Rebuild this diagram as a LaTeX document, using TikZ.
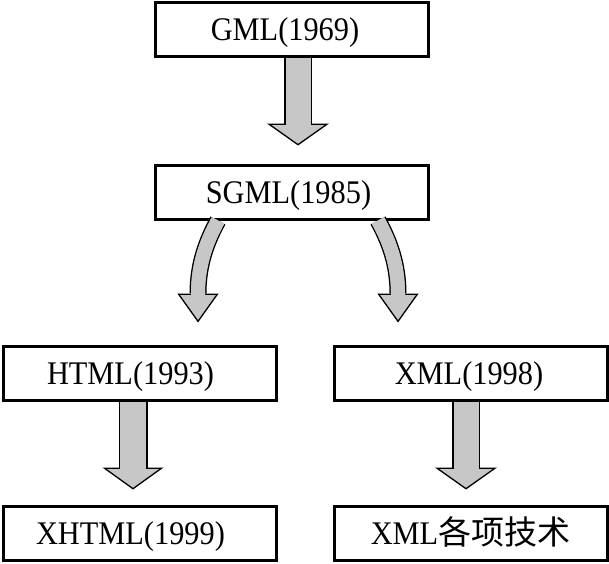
\documentclass[tikz,border=0pt]{standalone}
\usepackage{fontspec}
\setmainfont{Liberation Serif}[FakeStretch=0.92]
\newfontfamily\cjk{Noto Sans CJK SC}
\usepackage{tikz}
\usetikzlibrary{arrows.meta, positioning}
\definecolor{arrowgray}{gray}{0.78}
\tikzset{
  stage/.style    = {rectangle, draw=black, line width=3pt, fill=white,
                     minimum width=273pt, minimum height=54pt, inner sep=0pt,
                     text height=23pt, text depth=0pt,
                     font=\fontsize{33}{38}\selectfont},
  % #1 shaft width, #2 head width, #3 head length
  fatarrow/.style n args = {3}{draw=arrowgray, line width=#1,
                     -{Triangle[length=#3 0 0, width=#2 0 0, color=black,
                       fill=arrowgray, line width=1.3pt 0 0]},
                     preaction={draw=black, line width=#1+3pt, arrows=-, shorten >=#3},
                     postaction={draw=arrowgray, line width=#1, arrows=-, shorten >=#3-2pt}},
}
\begin{document}
\begin{tikzpicture}
  \useasboundingbox (0,0) rectangle (609pt,-563pt);

  \node[stage] (gml) at (292pt,-29pt) {GML(1969)\kern14pt};
  \node[stage, below=106pt of gml] (sgml) {SGML(1985)\kern7pt};
  \node[stage, below=124pt of sgml, xshift=-152.5pt] (html) {HTML(1993)\kern18pt};
  \node[stage, right=55pt of html] (xml) {XML(1998)\kern3pt};
  \node[stage, below=103pt of html] (xhtml) {XHTML(1999)\kern18pt};
  \node[stage, below=103pt of xml] (xmltech) {XML{\cjk 各项技术}};

  \draw[fatarrow={25pt}{62pt}{22pt}] ([xshift=6pt]gml.south) -- ([xshift=6pt, yshift=18pt]sgml.north);
  \draw[fatarrow={14pt}{41pt}{29pt}] ([xshift=-74pt]sgml.south)
    .. controls +(-11pt,-20pt) and +(0pt,30pt) .. ([xshift=58.5pt, yshift=51pt]html.north)
    -- ([xshift=58.5pt, yshift=22pt]html.north);
  \draw[fatarrow={14pt}{41pt}{29pt}] ([xshift=86pt]sgml.south)
    .. controls +(11pt,-20pt) and +(0pt,30pt) .. ([xshift=-72.5pt, yshift=51pt]xml.north)
    -- ([xshift=-72.5pt, yshift=22pt]xml.north);
  \draw[fatarrow={26pt}{61pt}{22pt}] ([xshift=-6.5pt]html.south) -- ([xshift=-6.5pt, yshift=15pt]xhtml.north);
  \draw[fatarrow={25pt}{62pt}{22pt}] ([xshift=-4.5pt]xml.south) -- ([xshift=-4.5pt, yshift=15pt]xmltech.north);
\end{tikzpicture}
\end{document}
